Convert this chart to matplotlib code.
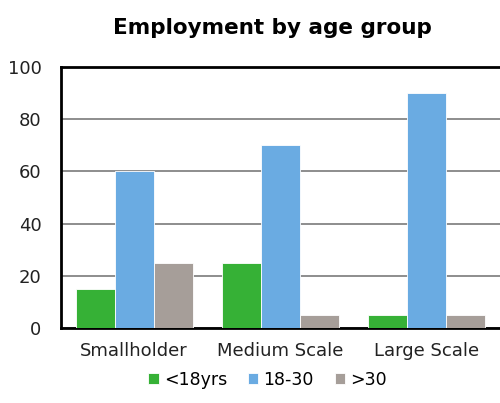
import numpy as np
import matplotlib
matplotlib.use('Agg')
import matplotlib.pyplot as plt

categories = ['Smallholder', 'Medium Scale', 'Large Scale']
series_names = ['<18yrs', '18-30', '>30']
under_18 = [15, 25, 5]
age_18_30 = [60, 70, 90]
over_30 = [25, 5, 5]
colors = ['#36b136', '#6aabe2', '#a69e99']

plt.rcParams['font.family'] = ['DejaVu Sans']

fig = plt.figure(figsize=(5, 4.03), dpi=100)
ax = fig.add_axes([0.122, 0.186, 0.878, 0.648])

x = np.arange(len(categories))
w = 0.266
for i, (vals, name) in enumerate(zip([under_18, age_18_30, over_30], series_names)):
    ax.bar(x + (i - 1) * w, vals, w, color=colors[i], label=name, zorder=3,
           edgecolor='white', linewidth=0.6)

ax.set_xlim(-0.5, 2.5)
ax.set_ylim(0, 100)
ax.set_yticks(range(0, 101, 20))
ax.set_xticks(x)
ax.set_xticklabels(categories)
ax.tick_params(axis='both', length=0, labelsize=13, colors='#222222')
ax.tick_params(axis='x', pad=10)
ax.tick_params(axis='y', pad=14)
ax.yaxis.grid(True, color='#858585', linewidth=1.3, zorder=0)
for s in ['left', 'top', 'bottom']:
    ax.spines[s].set_linewidth(2)
    ax.spines[s].set_color('black')
ax.spines['right'].set_visible(False)

fig.suptitle('Employment by age group', x=0.545, y=0.955, fontsize=15.5,
             fontweight='bold')
fig.legend(loc='center', bbox_to_anchor=(0.535, 0.057), ncol=3, frameon=False,
           fontsize=12.5, handlelength=0.6, handleheight=0.6, handletextpad=0.3,
           columnspacing=1.2)

fig.savefig('out.png', dpi=100)
